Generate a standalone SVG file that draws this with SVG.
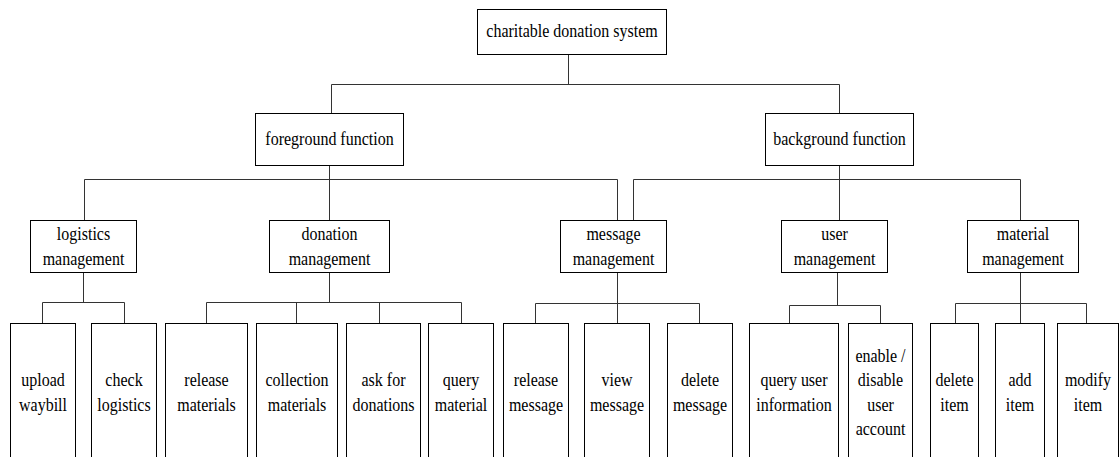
<svg xmlns="http://www.w3.org/2000/svg" width="1119" height="457" viewBox="0 0 1119 457">
<style>
.b{fill:#fff;stroke:#000;stroke-width:1}
.c{fill:none;stroke:#333;stroke-width:1}
.t{font-family:'Liberation Serif',serif;font-size:16px;text-anchor:middle;fill:#000}
</style>
<rect width="1119" height="457" fill="#fff"/>
<g id="connectors" class="c">
<path d="M568.5 54.5V84.5M331.5 113.5V84.5H839.5V113.5"/>
<path d="M329.5 165.5V220.5M84.5 220.5V179.5H617.5V220.5"/>
<path d="M839.5 165.5V220.5M633.5 220.5V179.5H1020.5V220.5"/>
<path d="M83.5 272.5V302.5M42.5 323.5V302.5H124.5V323.5"/>
<path d="M329.5 272.5V302.5M206.5 323.5V302.5H461.5V323.5M296.5 302.5V323.5M379.5 302.5V323.5"/>
<path d="M617.5 272.5V323.5M535.5 323.5V303.5H699.5V323.5"/>
<path d="M837.5 272.5V305.5M789.5 323.5V305.5H880.5V323.5"/>
<path d="M1020.5 272.5V323.5M955.5 323.5V303.5H1086.5V323.5"/>
</g>
<g font-family="Liberation Serif, serif">
<g id="root"><rect class="b" x="477.5" y="9.5" width="189" height="45"/><text class="t" transform="translate(572,37) scale(1,1.12)">charitable donation system</text></g>
<g id="foreground"><rect class="b" x="255.5" y="113.5" width="148" height="52"/><text class="t" transform="translate(329.5,145) scale(1,1.12)">foreground function</text></g>
<g id="background"><rect class="b" x="765.5" y="113.5" width="148" height="52"/><text class="t" transform="translate(839.5,145) scale(1,1.12)">background function</text></g>
<g id="logistics"><rect class="b" x="30.5" y="220.5" width="106" height="52"/><text class="t" transform="translate(83.5,240) scale(1,1.12)"><tspan x="0">logistics</tspan><tspan x="0" dy="21.9">management</tspan></text></g>
<g id="donation"><rect class="b" x="269.5" y="220.5" width="120" height="52"/><text class="t" transform="translate(329.5,240) scale(1,1.12)"><tspan x="0">donation</tspan><tspan x="0" dy="21.9">management</tspan></text></g>
<g id="message"><rect class="b" x="560.5" y="220.5" width="106" height="52"/><text class="t" transform="translate(613.5,240) scale(1,1.12)"><tspan x="0">message</tspan><tspan x="0" dy="21.9">management</tspan></text></g>
<g id="user"><rect class="b" x="781.5" y="220.5" width="106" height="52"/><text class="t" transform="translate(834.5,240) scale(1,1.12)"><tspan x="0">user</tspan><tspan x="0" dy="21.9">management</tspan></text></g>
<g id="material"><rect class="b" x="967.5" y="220.5" width="111" height="52"/><text class="t" transform="translate(1023,240) scale(1,1.12)"><tspan x="0">material</tspan><tspan x="0" dy="21.9">management</tspan></text></g>
<g id="upload-waybill"><rect class="b" x="10.5" y="323.5" width="65" height="150"/><text class="t" transform="translate(43,386) scale(1,1.12)"><tspan x="0">upload</tspan><tspan x="0" dy="21.9">waybill</tspan></text></g>
<g id="check-logistics"><rect class="b" x="91.5" y="323.5" width="65" height="150"/><text class="t" transform="translate(124,386) scale(1,1.12)"><tspan x="0">check</tspan><tspan x="0" dy="21.9">logistics</tspan></text></g>
<g id="release-materials"><rect class="b" x="165.5" y="323.5" width="82" height="150"/><text class="t" transform="translate(206.5,386) scale(1,1.12)"><tspan x="0">release</tspan><tspan x="0" dy="21.9">materials</tspan></text></g>
<g id="collection-materials"><rect class="b" x="256.5" y="323.5" width="81" height="150"/><text class="t" transform="translate(297,386) scale(1,1.12)"><tspan x="0">collection</tspan><tspan x="0" dy="21.9">materials</tspan></text></g>
<g id="ask-for-donations"><rect class="b" x="346.5" y="323.5" width="74" height="150"/><text class="t" transform="translate(383.5,386) scale(1,1.12)"><tspan x="0">ask for</tspan><tspan x="0" dy="21.9">donations</tspan></text></g>
<g id="query-material"><rect class="b" x="428.5" y="323.5" width="65" height="150"/><text class="t" transform="translate(461,386) scale(1,1.12)"><tspan x="0">query</tspan><tspan x="0" dy="21.9">material</tspan></text></g>
<g id="release-message"><rect class="b" x="503.5" y="323.5" width="65" height="150"/><text class="t" transform="translate(536,386) scale(1,1.12)"><tspan x="0">release</tspan><tspan x="0" dy="21.9">message</tspan></text></g>
<g id="view-message"><rect class="b" x="584.5" y="323.5" width="65" height="150"/><text class="t" transform="translate(617,386) scale(1,1.12)"><tspan x="0">view</tspan><tspan x="0" dy="21.9">message</tspan></text></g>
<g id="delete-message"><rect class="b" x="667.5" y="323.5" width="65" height="150"/><text class="t" transform="translate(700,386) scale(1,1.12)"><tspan x="0">delete</tspan><tspan x="0" dy="21.9">message</tspan></text></g>
<g id="query-user-information"><rect class="b" x="749.5" y="323.5" width="89" height="150"/><text class="t" transform="translate(794,386) scale(1,1.12)"><tspan x="0">query user</tspan><tspan x="0" dy="21.9">information</tspan></text></g>
<g id="enable-disable-user-account"><rect class="b" x="848.5" y="323.5" width="64" height="150"/><text class="t" transform="translate(880.5,361.5) scale(1,1.12)"><tspan x="0">enable /</tspan><tspan x="0" dy="21.9">disable</tspan><tspan x="0" dy="21.9">user</tspan><tspan x="0" dy="21.9">account</tspan></text></g>
<g id="delete-item"><rect class="b" x="930.5" y="323.5" width="48" height="150"/><text class="t" transform="translate(954.5,386) scale(1,1.12)"><tspan x="0">delete</tspan><tspan x="0" dy="21.9">item</tspan></text></g>
<g id="add-item"><rect class="b" x="995.5" y="323.5" width="49" height="150"/><text class="t" transform="translate(1020,386) scale(1,1.12)"><tspan x="0">add</tspan><tspan x="0" dy="21.9">item</tspan></text></g>
<g id="modify-item"><rect class="b" x="1057.5" y="323.5" width="61" height="150"/><text class="t" transform="translate(1088,386) scale(1,1.12)"><tspan x="0">modify</tspan><tspan x="0" dy="21.9">item</tspan></text></g>
</g>
</svg>
